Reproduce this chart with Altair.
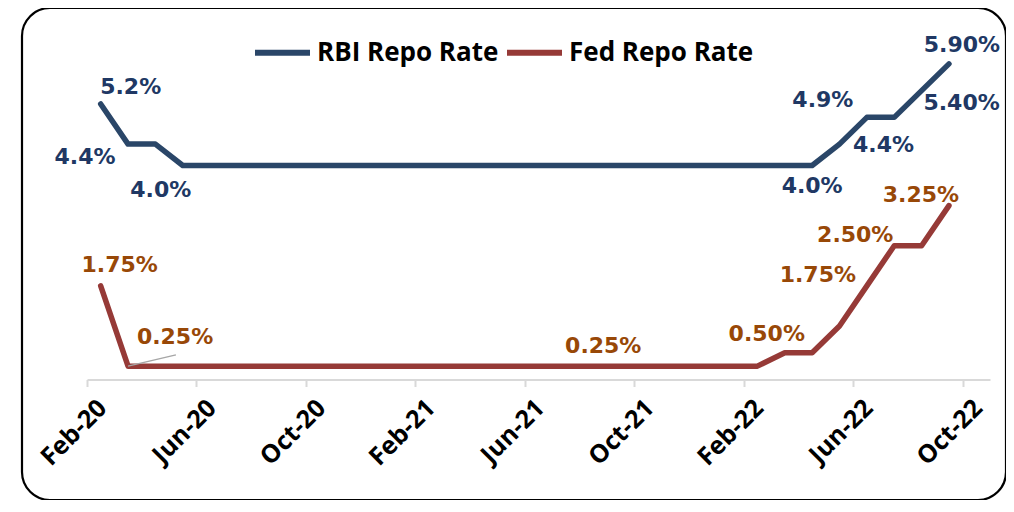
import altair as alt
import pandas as pd

# ---------------- data ----------------
months = ["Feb-20", "Mar-20", "Apr-20", "May-20", "Jun-20", "Jul-20", "Aug-20", "Sep-20",
          "Oct-20", "Nov-20", "Dec-20", "Jan-21", "Feb-21", "Mar-21", "Apr-21", "May-21",
          "Jun-21", "Jul-21", "Aug-21", "Sep-21", "Oct-21", "Nov-21", "Dec-21", "Jan-22",
          "Feb-22", "Mar-22", "Apr-22", "May-22", "Jun-22", "Jul-22", "Aug-22", "Sep-22"]

rbi_rate = [5.15, 4.4, 4.4, 4.0, 4.0, 4.0, 4.0, 4.0,
            4.0, 4.0, 4.0, 4.0, 4.0, 4.0, 4.0, 4.0,
            4.0, 4.0, 4.0, 4.0, 4.0, 4.0, 4.0, 4.0,
            4.0, 4.0, 4.0, 4.4, 4.9, 4.9, 5.4, 5.9]

fed_rate = [1.75, 0.25, 0.25, 0.25, 0.25, 0.25, 0.25, 0.25,
            0.25, 0.25, 0.25, 0.25, 0.25, 0.25, 0.25, 0.25,
            0.25, 0.25, 0.25, 0.25, 0.25, 0.25, 0.25, 0.25,
            0.25, 0.5, 0.5, 1.0, 1.75, 2.5, 2.5, 3.25]

tick_labels = ["Feb-20", "Jun-20", "Oct-20", "Feb-21", "Jun-21",
               "Oct-21", "Feb-22", "Jun-22", "Oct-22"]

series_names = ["RBI Repo Rate", "Fed Repo Rate"]

# data labels: (month, text)
rbi_label_months = ["Feb-20", "Mar-20", "May-20", "Apr-22", "May-22", "Jun-22", "Aug-22", "Sep-22"]
rbi_label_texts = ["5.2%", "4.4%", "4.0%", "4.0%", "4.4%", "4.9%", "5.40%", "5.90%"]
fed_label_months = ["Feb-20", "Mar-20", "Aug-21", "Mar-22", "Jun-22", "Jul-22", "Sep-22"]
fed_label_texts = ["1.75%", "0.25%", "0.25%", "0.50%", "1.75%", "2.50%", "3.25%"]

# ---------------- layout / style (pixel offsets of labels from their point) ----------------
rbi_label_offsets = [(30, -17), (-43, 13), (-22, 24), (0, 20), (44, 1), (-44, -17), (40, 12), (13, -19)]
fed_label_offsets = [(19, -21), (47, -29), (10, -20), (-18, -19), (-49, -11), (-39, -11), (-28, -11)]

RBI_LINE = "#2a4668"
FED_LINE = "#963a37"
RBI_TEXT = "#203864"
FED_TEXT = "#984807"

rows = []
for i, m in enumerate(months):
    rows.append({"month": m, "idx": i + 0.5, "series": series_names[0], "rate": rbi_rate[i]})
    rows.append({"month": m, "idx": i + 0.5, "series": series_names[1], "rate": fed_rate[i]})
df = pd.DataFrame(rows)

W, H = 984, 492
xscale = alt.Scale(domain=[0, 33], range=[65, 968], nice=False, zero=False)
yscale = alt.Scale(domain=[0, 7], range=[371.5, -3], nice=False, zero=False)

label_expr = "[" + ",".join("'%s'" % t for t in tick_labels) + "][round(datum.value / 4)]"
xaxis = alt.Axis(
    values=[4 * k for k in range(len(tick_labels))],
    labelExpr=label_expr,
    title=None, grid=False,
    domain=True, domainColor="#d9d9d9", domainWidth=2,
    ticks=True, tickColor="#d9d9d9", tickWidth=2, tickSize=7,
    labelAngle=-45, labelAlign="right", labelBaseline="middle",
    labelOffset=15, labelPadding=17,
    labelFont="Open Sans", labelFontWeight="bold", labelFontSize=25, labelColor="black",
    labelOverlap=False, labelFlush=False,
    offset=371.5 - H,
)

X = alt.X("idx:Q", scale=xscale, axis=xaxis)
Y = alt.Y("rate:Q", scale=yscale, axis=None)

lines = alt.Chart(df).mark_line(strokeWidth=5.5, strokeCap="round", strokeJoin="round").encode(
    x=X, y=Y,
    color=alt.Color("series:N", sort=series_names,
                    scale=alt.Scale(domain=series_names, range=[RBI_LINE, FED_LINE]),
                    legend=alt.Legend(orient="none", legendX=230, legendY=14, direction="horizontal",
                                      title=None, symbolType="stroke", symbolSize=3025,
                                      symbolStrokeWidth=6, labelFont="Open Sans",
                                      labelFontWeight="bold", labelFontSize=26, labelColor="black",
                                      columnPadding=-4, labelOffset=4, padding=0, labelLimit=400)),
)

# leader line for the first 0.25% label
leader = alt.Chart(pd.DataFrame([{"idx": 1.5, "rate": fed_rate[1], "idx2": 3.25, "rate2": 0.46}])).mark_rule(
    color="#a6a6a6", strokeWidth=1.5
).encode(x=X, y=Y, x2="idx2:Q", y2="rate2:Q")

layers = [lines, leader]

def add_labels(label_months, texts, offsets, values, color):
    for m, t, (dx, dy) in zip(label_months, texts, offsets):
        i = months.index(m)
        d = pd.DataFrame([{"idx": i + 0.5, "rate": values[i], "text": t}])
        layers.append(
            alt.Chart(d).mark_text(dx=dx, dy=dy, font="DejaVu Sans", fontWeight="bold",
                                   fontSize=22, color=color, align="center", baseline="middle")
            .encode(x=X, y=Y, text="text:N")
        )

add_labels(rbi_label_months, rbi_label_texts, rbi_label_offsets, rbi_rate, RBI_TEXT)
add_labels(fed_label_months, fed_label_texts, fed_label_offsets, fed_rate, FED_TEXT)

chart = alt.layer(*layers).properties(
    width=W, height=H,
    autosize=alt.AutoSizeParams(type="none"),
    padding={"left": 14, "top": 0, "right": 0, "bottom": 0},
    background="white",
).configure_view(
    stroke="black", strokeWidth=2.2, cornerRadius=28, fill="white"
)

chart.save("out.html", embed_options={"renderer": "svg", "actions": False})
